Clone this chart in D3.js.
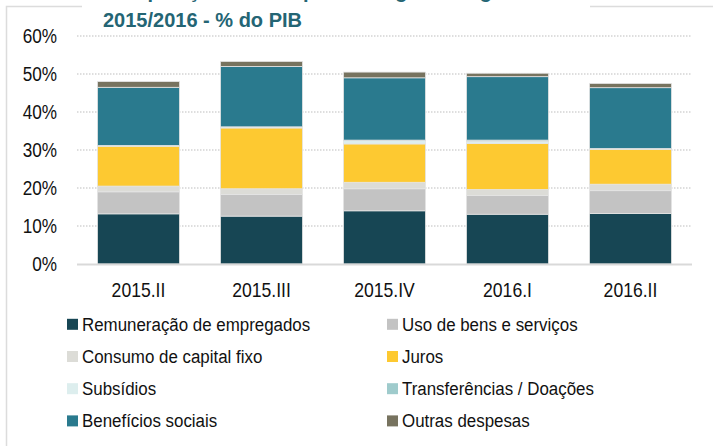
<!DOCTYPE html>
<html lang="pt">
<head>
  <meta charset="UTF-8">
  <title>Despesa do governo geral - % do PIB</title>
  <script src="https://d3js.org/d3.v7.min.js"></script>
  <style>
    body { margin: 0; background: #fff; }
  </style>
</head>
<body>
<script>
  // Dados (% do PIB)
  const categories = ["2015.II", "2015.III", "2015.IV", "2016.I", "2016.II"];
  const remuneracao    = [13.2, 12.6, 14.0, 13.1, 13.3];
  const usoBens        = [5.8, 5.7, 5.8, 4.9, 6.0];
  const consumoCapital = [1.5, 1.5, 1.7, 1.6, 1.7];
  const juros          = [10.5, 16.0, 10.1, 12.1, 9.2];
  const subsidios      = [0.2, 0.3, 0.9, 0.6, 0.2];
  const transferencias = [0.0, 0.0, 0.1, 0.3, 0.0];
  const beneficios     = [15.3, 15.9, 16.4, 16.7, 16.0];
  const outras         = [1.5, 1.3, 1.5, 0.9, 1.1];
  const yTicks = [0, 10, 20, 30, 40, 50, 60];

  const seriesNames = ["Remuneração de empregados", "Uso de bens e serviços", "Consumo de capital fixo",
    "Juros", "Subsídios", "Transferências / Doações", "Benefícios sociais", "Outras despesas"];
  const seriesValues = [remuneracao, usoBens, consumoCapital, juros, subsidios, transferencias, beneficios, outras];
  const colors = ["#174654", "#c3c3c3", "#dcdcd7", "#fdc931", "#ddeeee", "#9fcbcc", "#2a7a8e", "#77735f"];

  const width = 713, height = 446;
  // letra um pouco estreita: fonte maior com scaleX
  const font = "'Liberation Sans',Arial,sans-serif";

  const svg = d3.select("body").append("svg")
    .attr("width", width)
    .attr("height", height);

  // moldura
  svg.append("path")
    .attr("d", "M590,6.5 L713,6.5 M82,6.5 L6.5,6.5 L6.5,446")
    .attr("fill", "none")
    .attr("stroke", "#dcdcdc")
    .attr("stroke-width", 1.5);

  // titulo (primeira linha cortada no topo)
  const title = svg.append("text")
    .style("font-family", font)
    .style("font-weight", "bold")
    .style("font-size", "20px")
    .style("fill", "#246574");
  title.append("tspan").attr("x", 103).attr("y", -2).text("Composição das despesas do governo geral");
  title.append("tspan").attr("x", 103).attr("y", 27).text("2015/2016 - % do PIB");

  // escalas
  const x = d3.scaleBand()
    .domain(categories)
    .range([77, 692])
    .paddingInner(1 / 3)
    .paddingOuter(1 / 6);

  const y = d3.scaleLinear()
    .domain([0, 60])
    .range([264, 36]);

  // grade pontilhada
  svg.append("g")
    .selectAll("line")
    .data(yTicks.filter(d => d > 0))
    .enter()
    .append("line")
    .attr("x1", 77)
    .attr("x2", 692)
    .attr("y1", d => y(d))
    .attr("y2", d => y(d))
    .attr("stroke", "#d4d4d4")
    .attr("stroke-width", 1.5)
    .attr("stroke-dasharray", "1.5,1.5");

  // empilhamento
  const table = categories.map((c, i) => {
    const row = { cat: c };
    seriesNames.forEach((s, k) => row[s] = seriesValues[k][i]);
    return row;
  });
  const stacked = d3.stack().keys(seriesNames)(table);

  svg.append("g")
    .selectAll("g")
    .data(stacked)
    .enter()
    .append("g")
    .attr("fill", (d, i) => colors[i])
    .selectAll("rect")
    .data(d => d)
    .enter()
    .append("rect")
    .attr("x", d => x(d.data.cat))
    .attr("width", x.bandwidth())
    .attr("y", d => y(d[1]))
    .attr("height", d => y(d[0]) - y(d[1]))
    .attr("stroke", "#e4e4e4")
    .attr("stroke-width", 0.8);

  // eixo x (linha base)
  svg.append("line")
    .attr("x1", 77)
    .attr("x2", 692)
    .attr("y1", 264.5)
    .attr("y2", 264.5)
    .attr("stroke", "#d9d9d9")
    .attr("stroke-width", 2);

  svg.append("g")
    .selectAll("text")
    .data(categories)
    .enter()
    .append("text")
    .attr("transform", d => `translate(${x(d) + x.bandwidth() / 2}, 297) scale(0.88, 1)`)
    .attr("text-anchor", "middle")
    .style("font-family", font)
    .style("font-size", "20px")
    .style("fill", "#111")
    .text(d => d);

  // eixo y
  svg.append("g")
    .selectAll("text")
    .data(yTicks)
    .enter()
    .append("text")
    .attr("transform", d => `translate(57, ${y(d) + 7}) scale(0.88, 1)`)
    .attr("text-anchor", "end")
    .style("font-family", font)
    .style("font-size", "19.5px")
    .style("fill", "#111")
    .text(d => d + "%");

  // legenda
  const legend = svg.append("g")
    .selectAll("g")
    .data(seriesNames)
    .enter()
    .append("g")
    .attr("transform", (d, i) => `translate(${i % 2 === 0 ? 67 : 387}, ${324.3 + Math.floor(i / 2) * 32.2})`);

  legend.append("rect")
    .attr("x", 0)
    .attr("y", -5.5)
    .attr("width", 11)
    .attr("height", 11)
    .attr("fill", (d, i) => colors[i]);

  legend.append("text")
    .attr("transform", "translate(15, 6.5) scale(0.89, 1)")
    .style("font-family", font)
    .style("font-size", "19px")
    .style("fill", "#111")
    .text(d => d);
</script>
</body>
</html>
